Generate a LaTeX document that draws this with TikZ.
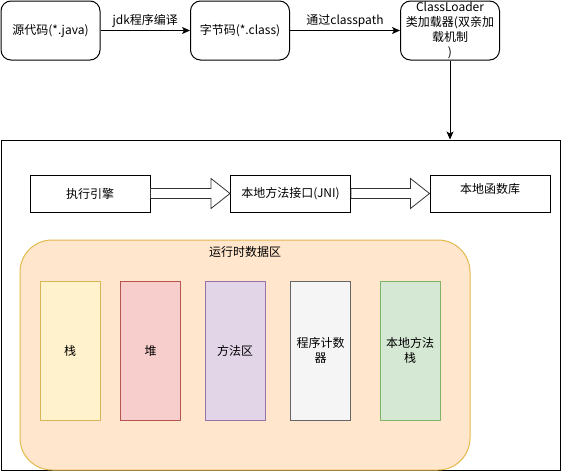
\documentclass[tikz,border=0pt]{standalone}
\usepackage{fontspec}
\setmainfont{Noto Sans CJK SC}
\usetikzlibrary{arrows.meta,calc,positioning}
\definecolor{peachfill}{HTML}{FFE6CC}
\definecolor{peachdraw}{HTML}{D79B00}
\definecolor{yelfill}{HTML}{FFF2CC}
\definecolor{yeldraw}{HTML}{D6B656}
\definecolor{redfill}{HTML}{F8CECC}
\definecolor{reddraw}{HTML}{B85450}
\definecolor{purfill}{HTML}{E1D5E7}
\definecolor{purdraw}{HTML}{9673A6}
\definecolor{gryfill}{HTML}{F5F5F5}
\definecolor{grydraw}{HTML}{666666}
\definecolor{grnfill}{HTML}{D5E8D4}
\definecolor{grndraw}{HTML}{82B366}
\tikzset{
  topbox/.style={draw=black, fill=white, rounded corners=10pt, minimum width=99pt, minimum height=59pt, align=center, inner sep=1pt, text width=97pt},
  plainbox/.style={draw=black, fill=white, minimum width=120pt, minimum height=37pt, align=center, inner sep=1pt},
  colbox/.style={minimum width=60pt, minimum height=139pt, align=center, inner sep=1pt},
  flow/.style={-{Stealth[length=8pt,width=7pt,inset=2pt]}, line width=0.8pt},
  bigarrow/.style={draw=black!80, fill=white, line width=0.8pt, line join=miter},
  lbl/.style={font=\fontsize{12}{14}\selectfont, inner sep=1pt}
}
\begin{document}
\begin{tikzpicture}[x=1pt,y=-1pt, line width=1pt, font=\fontsize{12}{15}\selectfont]
\useasboundingbox[fill=white] (0,0) rectangle (561,471);

% top row
\node[topbox] (src) at (50.5,30.5) {源代码(*.java)};
\node[topbox] (cls) at (240,30.5) {字节码(*.class)};
\node[topbox] (cl) at (450,30.5) {ClassLoader\\类加载器(双亲加\\载机制\\)};

\draw[flow] (src.east) -- node[lbl, midway, above=2pt] {jdk程序编译} (cls.west);
\draw[flow] (cls.east) -- node[lbl, midway, above=2pt] {通过classpath} (cl.west);

% JVM frame
\node[draw=black, minimum width=559pt, minimum height=330pt, inner sep=0pt] (jvm) at (280.5,305) {};
\draw[flow] (cl.south) -- (cl.south |- jvm.north);

% engine row
\node[plainbox] (exec) at (90,193.5) {执行引擎};
\node[plainbox] (jni) at (290.5,193.5) {本地方法接口(JNI)};
\node[plainbox, text depth=10pt] (lib) at (490,193.5) {本地函数库};

\draw[bigarrow] ($(exec.east)+(0,-5)$) -- ($(jni.west)+(-19,-5)$) -- ($(jni.west)+(-19,-15)$) -- (jni.west)
  -- ($(jni.west)+(-19,15)$) -- ($(jni.west)+(-19,5)$) -- ($(exec.east)+(0,5)$) -- cycle;
\draw[bigarrow] ($(jni.east)+(0,-5)$) -- ($(lib.west)+(-19,-5)$) -- ($(lib.west)+(-19,-15)$) -- (lib.west)
  -- ($(lib.west)+(-19,15)$) -- ($(lib.west)+(-19,5)$) -- ($(jni.east)+(0,5)$) -- cycle;

% runtime data area
\node[draw=peachdraw!70, fill=peachfill, rounded corners=32pt, minimum width=450pt, minimum height=230pt, inner sep=0pt] (rt) at (245,355) {};
\node[lbl, below=5pt of rt.north, inner sep=1pt] (rttitle) {运行时数据区};

\node[colbox, draw=yeldraw, fill=yelfill] (stack) at (70,350.5) {栈};
\node[colbox, draw=reddraw, fill=redfill] (heap) at (150.5,350.5) {堆};
\node[colbox, draw=purdraw, fill=purfill] (method) at (235,350.5) {方法区};
\node[colbox, draw=grydraw, fill=gryfill] (pc) at (320.5,350.5) {程序计数\\器};
\node[colbox, draw=grndraw, fill=grnfill] (nstack) at (410,350.5) {本地方法\\栈};
\end{tikzpicture}
\end{document}
